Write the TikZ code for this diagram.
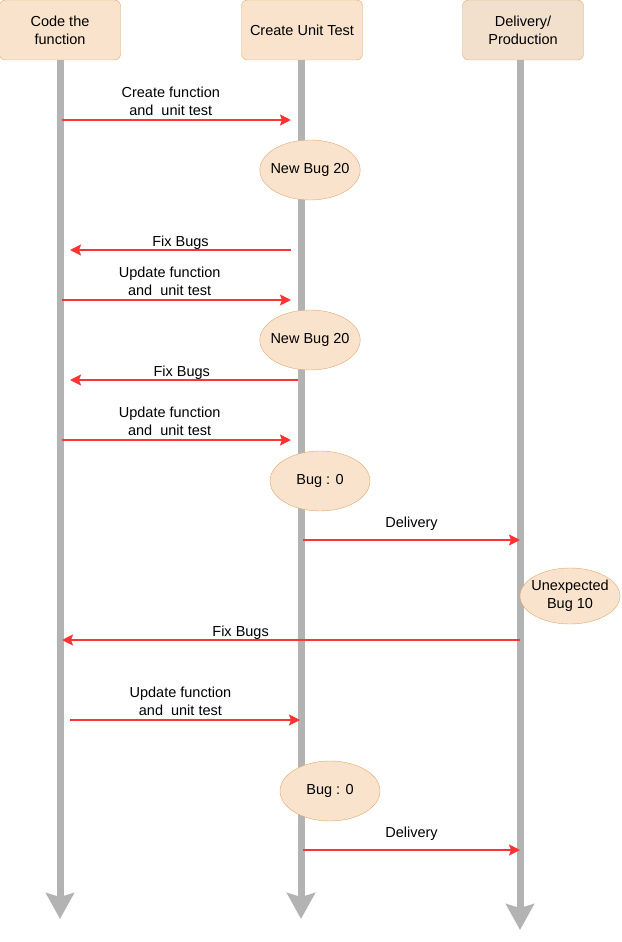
\documentclass[tikz,border=0pt]{standalone}
\usepackage{fontspec}
\setmainfont{Liberation Sans}
\usetikzlibrary{shapes.geometric,arrows.meta}
\definecolor{peach}{HTML}{F9E3CC}
\definecolor{peachdot}{HTML}{F3E0CC}
\definecolor{peachline}{HTML}{E0A870}
\definecolor{lifegray}{HTML}{B3B3B3}
\definecolor{msgred}{HTML}{FF3333}

\begin{document}
\begin{tikzpicture}[x=1pt, y=-1pt,
  every node/.style={font=\fontsize{14.5}{18}\selectfont},
  box/.style={draw=peachline, fill=peach, rounded corners=6pt, minimum width=121pt, minimum height=60pt, align=center},
  bug/.style={ellipse, draw=peachline, fill=peach, minimum width=100pt, minimum height=60pt, inner xsep=-4pt, inner ysep=0pt, align=center},
  life/.style={line width=7pt, lifegray, -{Stealth[length=26pt, width=28pt, inset=4pt]}},
  msg/.style={msgred, line width=2pt, -{Stealth[length=11pt, width=11pt, inset=2pt]}},
  lbl/.style={above, inner sep=3.5pt, align=center, text=black}]
\useasboundingbox (0,0) rectangle (621,942);

\node[box] (code) at (60,30) {Code the\\function};
\node[box] (test) at (302,30) {Create Unit Test};
\node[box, fill=peachdot] (prod) at (523,30) {Delivery/\\Production};

% lifelines
\coordinate (prodTop) at (520,60);
\coordinate (codeEnd) at (60,919);
\coordinate (testEnd) at (301,919);
\coordinate (prodEnd) at (520,930);
\draw[life] (code.south) -- (codeEnd);
\draw[life] (test.south -| testEnd) -- (testEnd);
\draw[life] (prodTop) -- (prodEnd);

% messages
\coordinate (m1a) at (62,120);  \coordinate (m1b) at (291,120);
\coordinate (m2a) at (291,250); \coordinate (m2b) at (70,250);
\coordinate (m3a) at (62,300);  \coordinate (m3b) at (291,300);
\coordinate (m4a) at (298,380); \coordinate (m4b) at (70,380);
\coordinate (m5a) at (62,440);  \coordinate (m5b) at (291,440);
\coordinate (m6a) at (303,540); \coordinate (m6b) at (520,540);
\coordinate (m7a) at (520,640); \coordinate (m7b) at (62,640);
\coordinate (m8a) at (70,720);  \coordinate (m8b) at (300,720);
\coordinate (m9a) at (303,850); \coordinate (m9b) at (520,850);

\draw[msg] (m1a) -- node[lbl, pos=.475] {Create function\\and~ unit test} (m1b);
\draw[msg] (m2a) -- node[lbl, inner sep=-1pt] {Fix Bugs} (m2b);
\draw[msg] (m3a) -- node[lbl, pos=.47] {Update function\\and~ unit test} (m3b);
\draw[msg] (m4a) -- node[lbl, pos=.51, inner sep=-1pt] {Fix Bugs} (m4b);
\draw[msg] (m5a) -- node[lbl, pos=.47] {Update function\\and~ unit test} (m5b);
\draw[msg] (m6a) -- node[lbl, inner sep=8.5pt] {Delivery} (m6b);
\draw[msg] (m7a) -- node[lbl, pos=.61, inner sep=-1pt] {Fix Bugs} (m7b);
\draw[msg] (m8a) -- node[lbl, pos=.48] {Update function\\and~ unit test} (m8b);
\draw[msg] (m9a) -- node[lbl, inner sep=8.5pt] {Delivery} (m9b);

% bugs
\node[bug] (bug1) at (310,170) {New Bug 20};
\node[bug] (bug2) at (310,340) {New Bug 20};
\node[bug] (bug3) at (320,481) {Bug : 0};
\node[bug, minimum height=56pt] (bug4) at (570,596) {Unexpected\\Bug 10};
\node[bug] (bug5) at (330,791) {Bug : 0};
\end{tikzpicture}
\end{document}
